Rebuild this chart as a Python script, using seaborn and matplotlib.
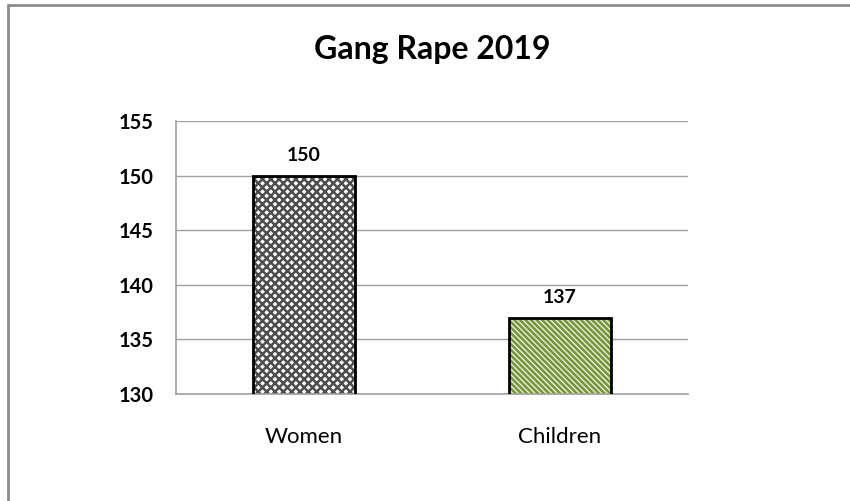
import matplotlib
matplotlib.use("Agg")
import matplotlib.pyplot as plt
from matplotlib.patches import Rectangle
from matplotlib.lines import Line2D
from matplotlib.ticker import MultipleLocator, FixedLocator
import seaborn as sns
import pandas as pd

categories = ["Women", "Children"]
values = [150, 137]
hatch_colors = ["#4d4d4d", "#77933c"]
face_colors = ["white", "#e6eed4"]
hatches = ["xxxx", "\\\\\\\\\\\\"]

sns.set_style("white")
plt.rcParams["font.family"] = ["Lato", "DejaVu Sans"]
plt.rcParams["hatch.linewidth"] = 1.8

df = pd.DataFrame({"cat": categories, "val": values})

fig = plt.figure(figsize=(8.5, 5.01), dpi=100)
ax = fig.add_axes([176 / 850, 1 - 394 / 501, 512 / 850, 273 / 501])

sns.barplot(data=df, x="cat", y="val", width=0.4, ax=ax, color="white")

# hatch colour comes from the edge colour, so the black outline is a separate patch
for p, hc, fc, h in zip(ax.patches, hatch_colors, face_colors, hatches):
    p.set_facecolor(fc)
    p.set_edgecolor(hc)
    p.set_hatch(h)
    p.set_linewidth(0)
    p.set_zorder(2)
    ax.add_patch(Rectangle(p.get_xy(), p.get_width(), p.get_height(),
                           fill=False, edgecolor="black", linewidth=2, zorder=3))

ax.set_ylim(130, 155)
ax.set_xlim(-0.5, 1.5)
ax.yaxis.set_major_locator(MultipleLocator(5))
ax.grid(axis="y", color="#a0a0a0", linewidth=1)
ax.set_axisbelow(True)

for s in ["top", "right"]:
    ax.spines[s].set_visible(False)
for s in ["left", "bottom"]:
    ax.spines[s].set_color("#a0a0a0")
    ax.spines[s].set_linewidth(1.2)

ax.tick_params(axis="y", length=5, color="#a0a0a0", pad=11, labelsize=14.5,
               labelcolor="black")
ax.tick_params(axis="x", which="major", length=0, pad=24, labelsize=16,
               labelcolor="black")
ax.xaxis.set_minor_locator(FixedLocator([-0.5, 0.5, 1.5]))
ax.tick_params(axis="x", which="minor", length=5, color="#a0a0a0")
for t in ax.get_yticklabels():
    t.set_fontweight("bold")

ax.set_xlabel("")
ax.set_ylabel("")

ax.bar_label(ax.containers[0], labels=[str(v) for v in values], padding=8,
             fontsize=14, fontweight="bold", color="black")

fig.text(432 / 850, 1 - 50 / 501, "Gang Rape 2019", ha="center", va="center",
         fontsize=23, fontweight="bold", color="black")

fig.add_artist(Line2D([8 / 850, 1], [1 - 5 / 501, 1 - 5 / 501], color="#8c8c8c",
                      linewidth=2, transform=fig.transFigure))
fig.add_artist(Line2D([8 / 850, 8 / 850], [0, 1 - 5 / 501], color="#8c8c8c",
                      linewidth=2, transform=fig.transFigure))

fig.savefig("out.png", dpi=100)
